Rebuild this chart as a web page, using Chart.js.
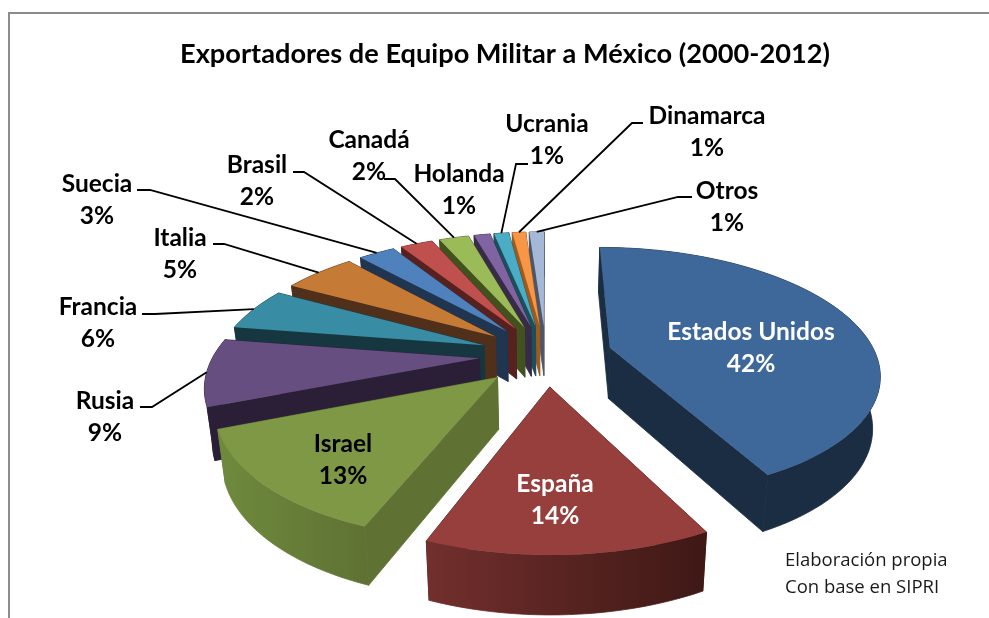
<!DOCTYPE html>
<html lang="es">
<head>
<meta charset="utf-8">
<title>Exportadores de Equipo Militar a México</title>
<script src="https://cdn.jsdelivr.net/npm/chart.js@4"></script>
<style>
    html, body { margin: 0; padding: 0; background: #fff; }
    #wrap { width: 989px; height: 618px; }
</style>
</head>
<body>
<div id="wrap"><canvas id="pieChart"></canvas></div>
<script>
// data; the labels show them rounded
const paises = ["Estados Unidos", "España", "Israel", "Rusia", "Francia", "Italia", "Suecia", "Brasil", "Canadá", "Holanda", "Ucrania", "Dinamarca", "Otros"];
const porcentajes = [42.4, 13.5, 13.1, 8.5, 5.5, 5.3, 2.7, 2.4, 2.2, 1.2, 1.1, 1, 1.1];

// colours
const topColors = ["#3e6899", "#973f3d", "#7e9846", "#664e80", "#388ca4", "#c57a36", "#4f81bd", "#c0504d", "#9bbb59", "#8064a2", "#4bacc6", "#f79646", "#a5b8d8"];
const wallLeft = ["#1a2d42", "#722f2d", "#6f8a3d", "#2b1f38", "#173740", "#50301a", "#1f3550", "#57211f", "#42521f", "#382b47", "#1a4f5c", "#a05a1c", "#4b5668"];
const wallRight = ["#1a2d42", "#3e1815", "#5f7233", "#2b1f38", "#173740", "#50301a", "#1f3550", "#57211f", "#42521f", "#382b47", "#1a4f5c", "#a05a1c", "#4b5668"];

// label placement: centre x, middle of the name line, then the leader start and elbow
const labelPos = [
    { x: 751, y: 332, color: "#fff" },
    { x: 555, y: 484, color: "#fff" },
    { x: 343, y: 444 },
    { x: 105, y: 401, leader: [[140, 407], [152, 407]] },
    { x: 98, y: 307, leader: [[142, 314], [155, 314]] },
    { x: 180, y: 238, leader: [[213, 244], [224, 244]] },
    { x: 97, y: 184, leader: [[137, 190], [150, 190]] },
    { x: 257, y: 165, leader: [[293, 172], [304, 172]] },
    { x: 369, y: 140, leader: [[384, 179], [395, 179]] },
    { x: 459, y: 174 },
    { x: 547, y: 124, leader: [[528, 164], [516, 164]] },
    { x: 707, y: 116, leader: [[643, 123], [632, 123]] },
    { x: 727, y: 191, leader: [[692, 197], [678, 197]] }
];

// camera for the tilted pie
const cam = { cx: 546, cy: 355, scaleX: 266, scaleY: 122, persp: 0.19, height: 51, shrink: 0.023 };

/**
 * Project a point on the pie plane (radius = 1) to the screen
 * @param {number} wx - right
 * @param {number} wy - down in the flat pie, so towards the viewer
 * @param {number} z - 0 top face, 1 bottom face
 */
function project(wx, wy, z) {
    const w = 1 - cam.persp * wy;
    return {
        x: cam.cx + cam.scaleX * wx / w * (1 - z * cam.shrink),
        y: cam.cy + cam.scaleY * wy / w + z * cam.height * Math.pow(w, -0.6)
    };
}

function pathOf(ctx, pts) {
    ctx.beginPath();
    pts.forEach((p, i) => i ? ctx.lineTo(p.x, p.y) : ctx.moveTo(p.x, p.y));
    ctx.closePath();
}

// fill with a hairline of the same colour so neighbouring walls leave no seam
function paint(ctx, pts, style) {
    ctx.fillStyle = style;
    ctx.strokeStyle = style;
    ctx.lineWidth = 0.8;
    pathOf(ctx, pts);
    ctx.fill();
    ctx.stroke();
}

// geometry of one slice, taken from the arc that Chart.js laid out
function sliceGeometry(arc) {
    const e = arc.options.offset / arc.outerRadius;
    const mid = (arc.startAngle + arc.endAngle) / 2;
    const ax = e * Math.cos(mid);
    const ay = e * Math.sin(mid);
    const steps = Math.max(4, Math.ceil((arc.endAngle - arc.startAngle) * 30));
    const rim = [];
    for (let i = 0; i <= steps; i++) {
        const a = arc.startAngle + (arc.endAngle - arc.startAngle) * i / steps;
        rim.push([ax + Math.cos(a), ay + Math.sin(a)]);
    }
    return { ax, ay, rim, midRim: [ax + Math.cos(mid), ay + Math.sin(mid)] };
}

function drawSlice(ctx, arc, i) {
    const g = sliceGeometry(arc);
    const top = g.rim.map(p => project(p[0], p[1], 0));
    const bottom = g.rim.map(p => project(p[0], p[1], 1));
    const apexTop = project(g.ax, g.ay, 0);
    const apexBottom = project(g.ax, g.ay, 1);

    // flat side walls
    paint(ctx, [apexTop, top[0], bottom[0], apexBottom], wallRight[i]);
    paint(ctx, [apexTop, top[top.length - 1], bottom[bottom.length - 1], apexBottom], wallRight[i]);

    // curved wall
    const xs = top.map(p => p.x);
    const grad = ctx.createLinearGradient(Math.min(...xs), 0, Math.max(...xs), 0);
    grad.addColorStop(0, wallLeft[i]);
    grad.addColorStop(1, wallRight[i]);
    paint(ctx, top.concat(bottom.slice().reverse()), grad);

    // top face
    ctx.fillStyle = arc.options.backgroundColor;
    pathOf(ctx, [apexTop].concat(top));
    ctx.fill();
}

const pie3d = {
    id: 'pie3d',
    beforeDraw(chart) {
        // frame of the original figure, open to the right and below
        const ctx = chart.ctx;
        ctx.save();
        ctx.strokeStyle = "#8c8c8c";
        ctx.lineWidth = 2;
        ctx.beginPath();
        ctx.moveTo(9, 618);
        ctx.lineTo(9, 13);
        ctx.lineTo(989, 13);
        ctx.stroke();
        ctx.restore();
    },
    // the pie itself is drawn here in place of the flat arcs
    beforeDatasetDraw(chart) {
        const ctx = chart.ctx;
        const arcs = chart.getDatasetMeta(0).data;
        ctx.save();
        // back to front: first slice never overlaps, then from the last one round to the second
        drawSlice(ctx, arcs[0], 0);
        for (let i = arcs.length - 1; i >= 1; i--) {
            drawSlice(ctx, arcs[i], i);
        }
        ctx.restore();
        return false;
    },
    afterDatasetsDraw(chart) {
        const ctx = chart.ctx;
        const arcs = chart.getDatasetMeta(0).data;
        ctx.save();

        // leader lines end on the middle of each slice's outer edge
        ctx.strokeStyle = "#000";
        ctx.lineWidth = 1.8;
        labelPos.forEach((pos, i) => {
            if (!pos.leader) return;
            const m = sliceGeometry(arcs[i]).midRim;
            const end = project(m[0], m[1], 0);
            ctx.beginPath();
            ctx.moveTo(pos.leader[0][0], pos.leader[0][1]);
            ctx.lineTo(pos.leader[1][0], pos.leader[1][1]);
            ctx.lineTo(end.x, end.y);
            ctx.stroke();
        });

        ctx.textAlign = "center";
        ctx.textBaseline = "middle";
        ctx.font = "bold 24.5px Lato";
        labelPos.forEach((pos, i) => {
            ctx.fillStyle = pos.color || "#000";
            ctx.fillText(paises[i], pos.x, pos.y);
            ctx.fillText(Math.round(porcentajes[i]) + "%", pos.x, pos.y + 32);
        });

        ctx.textAlign = "left";
        ctx.fillStyle = "#1a1a1a";
        ctx.font = "18.5px 'Open Sans'";
        ctx.fillText("Elaboración propia", 785, 561);
        ctx.fillText("Con base en SIPRI", 785, 588);
        ctx.restore();
    }
};

new Chart(document.getElementById('pieChart'), {
    type: 'pie',
    data: {
        labels: paises,
        datasets: [{
            data: porcentajes,
            backgroundColor: topColors,
            borderWidth: 0,
            offset: 50
        }]
    },
    options: {
        responsive: true,
        maintainAspectRatio: false,
        animation: false,
        radius: 200,
        layout: { padding: { left: 21 } },
        plugins: {
            legend: { display: false },
            tooltip: { enabled: false },
            title: {
                display: true,
                text: "Exportadores de Equipo Militar a México (2000-2012)",
                color: "#000",
                font: { family: "Lato", size: 27.2, weight: "bold" },
                padding: { top: 38, bottom: 20 }
            }
        }
    },
    plugins: [pie3d]
});
</script>
</body>
</html>
